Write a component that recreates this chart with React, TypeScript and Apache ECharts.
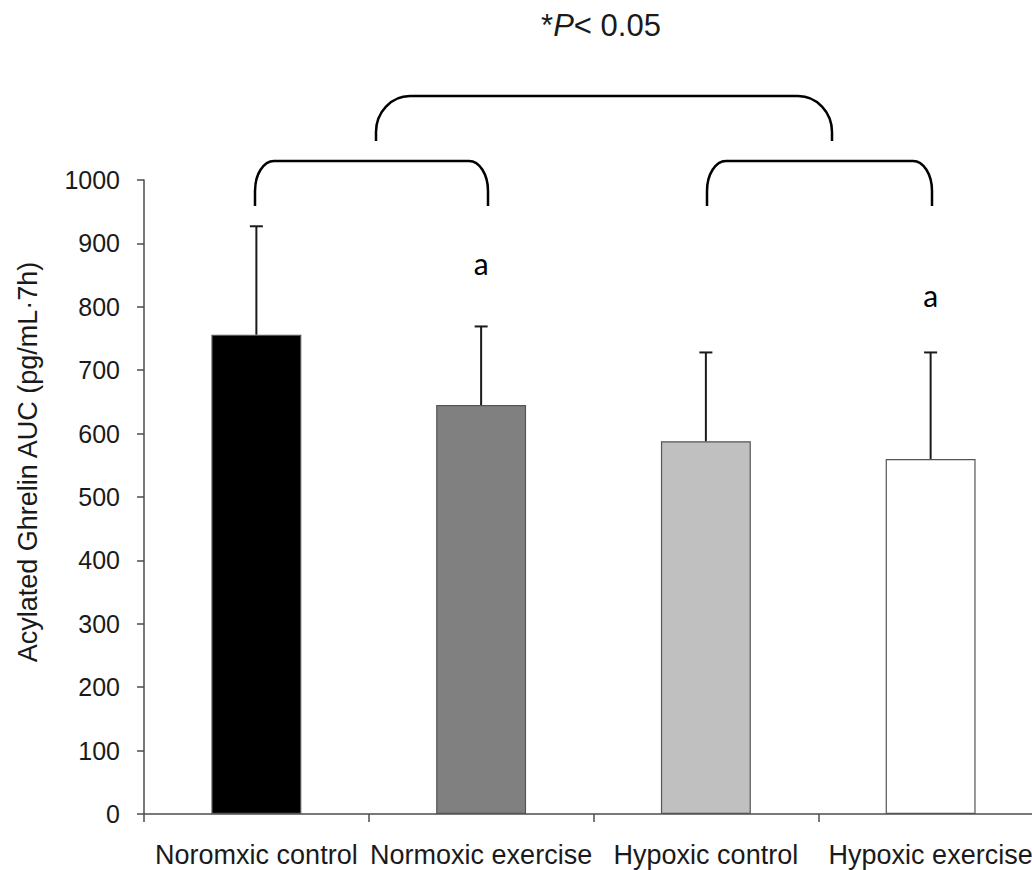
import React, { useEffect, useRef } from "react";
import * as echarts from "echarts";

// Group means and standard deviations of acylated ghrelin AUC
const categories = ["Noromxic control", "Normoxic exercise", "Hypoxic control", "Hypoxic exercise"];
const means = [756, 645, 588, 560];
const sds = [171, 124, 140, 168];
const barColors = ["#000000", "#808080", "#c0c0c0", "#ffffff"];

// Letter annotations above bars (category index, height on the value axis, text)
const letterIndex = [1, 3];
const letterHeight = [869, 819];
const letterText = ["a", "a"];

const yMin = 0;
const yMax = 1000;
const yStep = 100;

const yTitle = "Acylated Ghrelin AUC (pg/mL\u00b77h)";

// The plot runs slightly past the visible right edge, so the chart canvas is
// wider than the viewport and clipped by its wrapper.
const VIEW_W = 1032;
const VIEW_H = 870;
const CANVAS_W = 1070;

// Rounded comparison bracket drawn as an SVG path
function bracketPath(x1: number, x2: number, yt: number, yb: number, rx: number, ry: number) {
  const k = 0.5523;
  return (
    `M${x1} ${yb} L${x1} ${yt + ry} ` +
    `C${x1} ${yt + ry - ry * k} ${x1 + rx - rx * k} ${yt} ${x1 + rx} ${yt} ` +
    `L${x2 - rx} ${yt} ` +
    `C${x2 - rx + rx * k} ${yt} ${x2} ${yt + ry - ry * k} ${x2} ${yt + ry} ` +
    `L${x2} ${yb}`
  );
}

echarts.graphic.registerShape("bracketLeft", echarts.graphic.extendPath(bracketPath(255, 488, 161, 206, 19, 30), {}));
echarts.graphic.registerShape("bracketRight", echarts.graphic.extendPath(bracketPath(707, 932, 161, 206, 19, 30), {}));
echarts.graphic.registerShape("bracketTop", echarts.graphic.extendPath(bracketPath(376, 832, 96, 141, 34, 36), {}));

const axisColor = "#4d4d4d";
const textColor = "#1a1a1a";
const sans = "'Liberation Sans', Arial, sans-serif";

export default function App() {
  const ref = useRef<HTMLDivElement>(null);

  useEffect(() => {
    if (!ref.current) return;
    const chart = echarts.init(ref.current, null, { renderer: "svg" });

    const bracketStyle = { stroke: "#000", fill: "none", lineWidth: 2.5 };

    chart.setOption({
      animation: false,
      backgroundColor: "#ffffff",
      grid: { left: 144, right: CANVAS_W - 1043, top: 180, bottom: 56, containLabel: false },
      xAxis: {
        type: "category",
        data: categories,
        axisLine: { show: true, lineStyle: { color: axisColor, width: 1.5 } },
        axisTick: { show: true, length: 8, alignWithLabel: false, lineStyle: { color: axisColor, width: 1.5 } },
        axisLabel: { interval: 0, fontSize: 27, fontFamily: sans, color: textColor, margin: 27 },
        splitLine: { show: false },
      },
      yAxis: {
        type: "value",
        min: yMin,
        max: yMax,
        interval: yStep,
        axisLine: { show: true, lineStyle: { color: axisColor, width: 1.5 } },
        axisTick: { show: true, length: 7, lineStyle: { color: axisColor, width: 1.5 } },
        axisLabel: {
          fontSize: 25,
          fontFamily: sans,
          color: textColor,
          margin: 24,
          formatter: (v: number) => String(v),
        },
        splitLine: { show: false },
      },
      series: [
        {
          type: "bar",
          barWidth: "40%",
          data: means.map((v, i) => ({
            value: v,
            itemStyle: { color: barColors[i], borderColor: "#555555", borderWidth: 1.2 },
          })),
          z: 2,
        },
        {
          type: "custom",
          z: 3,
          data: means.map((v, i) => [i, v, v + sds[i]]),
          encode: { x: 0, y: [1, 2] },
          renderItem: (params: any, api: any) => {
            const idx = api.value(0);
            const lo = api.coord([idx, api.value(1)]);
            const hi = api.coord([idx, api.value(2)]);
            const style = { stroke: "#1a1a1a", lineWidth: 2 };
            return {
              type: "group",
              children: [
                { type: "line", shape: { x1: lo[0], y1: lo[1], x2: hi[0], y2: hi[1] }, style },
                { type: "line", shape: { x1: hi[0] - 6.5, y1: hi[1], x2: hi[0] + 6.5, y2: hi[1] }, style },
              ],
            };
          },
        },
        {
          type: "scatter",
          symbolSize: 0,
          z: 4,
          data: letterIndex.map((c, i) => ({ value: [c, letterHeight[i]], name: letterText[i] })),
          itemStyle: { opacity: 1 },
          label: {
            show: true,
            position: "inside",
            formatter: (p: any) => p.name,
            fontSize: 30,
            fontFamily: "Lato, 'Open Sans', sans-serif",
            color: "#000000",
            opacity: 1,
          },
        },
      ],
      graphic: [
        { type: "bracketTop", silent: true, style: bracketStyle },
        { type: "bracketLeft", silent: true, style: bracketStyle },
        { type: "bracketRight", silent: true, style: bracketStyle },
        {
          type: "text",
          x: 601,
          y: 25,
          silent: true,
          style: {
            text: "{n|*}{i|P}{n|< 0.05}",
            align: "center",
            verticalAlign: "middle",
            rich: {
              n: { fontSize: 31, fontFamily: sans, fill: textColor },
              i: { fontSize: 31, fontFamily: sans, fontStyle: "italic", fill: textColor },
            },
          },
        },
        {
          type: "text",
          x: 28,
          y: 462,
          rotation: Math.PI / 2,
          silent: true,
          style: {
            text: yTitle,
            fontSize: 27,
            fontFamily: sans,
            fill: textColor,
            align: "center",
            verticalAlign: "middle",
          },
        },
      ],
    });

    return () => chart.dispose();
  }, []);

  return (
    <div style={{ position: "absolute", left: 0, top: 0, width: VIEW_W, height: VIEW_H, overflow: "hidden" }}>
      <div ref={ref} style={{ width: CANVAS_W, height: VIEW_H }} />
    </div>
  );
}
